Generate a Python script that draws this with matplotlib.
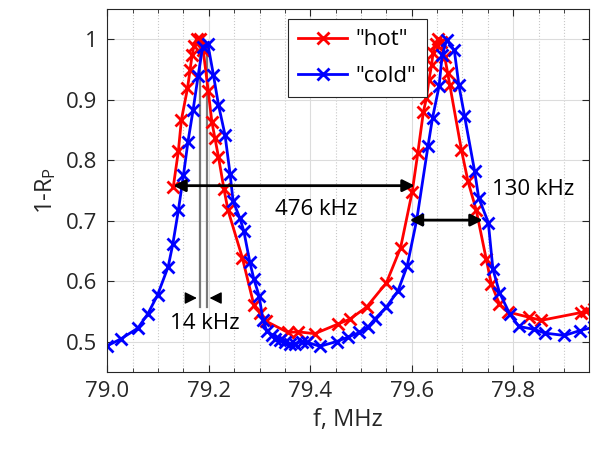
import matplotlib.pyplot as plt
from matplotlib.ticker import MultipleLocator

plt.rcParams['font.family'] = ['Open Sans', 'DejaVu Sans']
plt.rcParams['mathtext.default'] = 'regular'

# "hot" curve (red)
hot_f = [79.130, 79.140, 79.146, 79.158, 79.163, 79.167, 79.171, 79.176, 79.182, 79.189,
         79.199, 79.206, 79.212, 79.219, 79.230, 79.238, 79.266, 79.289, 79.301, 79.312,
         79.356, 79.376, 79.409, 79.455, 79.478, 79.511, 79.550, 79.578, 79.601, 79.612,
         79.623, 79.629, 79.634, 79.639, 79.642, 79.647, 79.652, 79.658, 79.665, 79.671,
         79.675, 79.698, 79.711, 79.727, 79.747, 79.757, 79.773, 79.789, 79.832, 79.855,
         79.934, 79.944, 79.960]
hot_r = [0.756, 0.815, 0.867, 0.919, 0.949, 0.974, 0.990, 1.001, 1.001, 0.982,
         0.914, 0.864, 0.837, 0.806, 0.752, 0.717, 0.639, 0.560, 0.548, 0.534,
         0.515, 0.516, 0.513, 0.529, 0.537, 0.557, 0.597, 0.655, 0.748, 0.812,
         0.880, 0.903, 0.933, 0.957, 0.977, 0.993, 1.001, 0.996, 0.971, 0.944,
         0.925, 0.817, 0.765, 0.718, 0.636, 0.595, 0.562, 0.549, 0.540, 0.535,
         0.548, 0.551, 0.553]

# "cold" curve (blue)
cold_f = [79.000, 79.026, 79.060, 79.080, 79.099, 79.120, 79.129, 79.140, 79.150, 79.159,
          79.169, 79.179, 79.188, 79.198, 79.209, 79.219, 79.232, 79.242, 79.248, 79.261,
          79.269, 79.281, 79.289, 79.299, 79.307, 79.314, 79.324, 79.330, 79.340, 79.350,
          79.360, 79.369, 79.383, 79.393, 79.419, 79.452, 79.474, 79.497, 79.514, 79.527,
          79.550, 79.573, 79.591, 79.610, 79.632, 79.641, 79.654, 79.660, 79.669, 79.684,
          79.693, 79.704, 79.724, 79.732, 79.751, 79.760, 79.773, 79.793, 79.811, 79.842,
          79.862, 79.901, 79.931, 79.960]
cold_r = [0.493, 0.504, 0.522, 0.546, 0.577, 0.624, 0.661, 0.717, 0.775, 0.831,
          0.883, 0.940, 0.988, 0.993, 0.942, 0.892, 0.842, 0.777, 0.732, 0.705,
          0.683, 0.631, 0.603, 0.576, 0.535, 0.518, 0.510, 0.504, 0.502, 0.499,
          0.496, 0.496, 0.500, 0.499, 0.492, 0.500, 0.507, 0.515, 0.524, 0.537,
          0.557, 0.584, 0.625, 0.702, 0.823, 0.870, 0.923, 0.974, 0.999, 0.982,
          0.924, 0.874, 0.782, 0.738, 0.697, 0.620, 0.581, 0.546, 0.525, 0.520,
          0.514, 0.510, 0.518, 0.524]

# annotations: (start, end, level) in MHz / 1-Rp
span_476 = (79.130, 79.606, 0.758)
span_130 = (79.596, 79.740, 0.701)
peak_lines = [79.182, 79.196]

fig = plt.figure(figsize=(5.92, 4.51), dpi=100)
ax = fig.add_axes([0.1813, 0.1758, 0.8141, 0.8036])

ax.plot(hot_f, hot_r, color='red', lw=2, marker='x', ms=8, mew=2, label='"hot"')
ax.plot(cold_f, cold_r, color='blue', lw=2, marker='x', ms=8, mew=2, label='"cold"')

# 14 kHz gap between peaks
for xl in peak_lines:
    ax.plot([xl, xl], [0.557, 0.995], color='#7a7a7a', lw=1.6, zorder=1)
arr = dict(arrowstyle='-|>', color='black', lw=1, mutation_scale=18)
ax.annotate('', xy=(peak_lines[0], 0.572), xytext=(79.150, 0.572), arrowprops=arr)
ax.annotate('', xy=(peak_lines[1], 0.572), xytext=(79.228, 0.572), arrowprops=arr)
ax.text(79.193, 0.529, '14 kHz', fontsize=16, ha='center', va='center')

darr = dict(arrowstyle='<|-|>', color='black', lw=2, mutation_scale=18,
            shrinkA=0, shrinkB=0)
ax.annotate('', xy=(span_476[1], span_476[2]), xytext=(span_476[0], span_476[2]),
            arrowprops=darr)
ax.text(79.411, 0.719, '476 kHz', fontsize=16, ha='center', va='center')
ax.annotate('', xy=(span_130[1], span_130[2]), xytext=(span_130[0], span_130[2]),
            arrowprops=darr)
ax.text(79.758, 0.751, '130 kHz', fontsize=16, ha='left', va='center')

ax.set_xlim(79.0, 79.95)
ax.set_ylim(0.45, 1.05)
ax.set_xticks([79.0, 79.2, 79.4, 79.6, 79.8])
ax.set_xticklabels(['79.0', '79.2', '79.4', '79.6', '79.8'])
ax.set_yticks([0.5, 0.6, 0.7, 0.8, 0.9, 1.0])
ax.set_yticklabels(['0.5', '0.6', '0.7', '0.8', '0.9', '1'])
ax.xaxis.set_minor_locator(MultipleLocator(0.05))
ax.tick_params(which='both', direction='in', top=True, right=True,
               labelsize=16, colors='#262626', pad=7)
ax.tick_params(which='major', length=5)
ax.tick_params(which='minor', length=3)
ax.grid(True, which='major', color='#dcdcdc', lw=0.8)
ax.grid(True, which='minor', axis='x', color='#c8c8c8', lw=0.8, ls=':')
ax.set_axisbelow(True)
for s in ax.spines.values():
    s.set_color('#262626')

ax.set_xlabel('f, MHz', fontsize=17, color='#262626', labelpad=4)
ax.set_ylabel('1-R$_P$', fontsize=17, color='#262626', labelpad=6)

leg = ax.legend(loc='upper left', bbox_to_anchor=(0.375, 0.972), fontsize=16,
                fancybox=False, framealpha=1, edgecolor='#262626',
                handlelength=2.2, handletextpad=0.4, labelspacing=0.7,
                borderpad=0.45, borderaxespad=0)
leg.get_frame().set_linewidth(0.8)

fig.savefig('out.png', dpi=100)
